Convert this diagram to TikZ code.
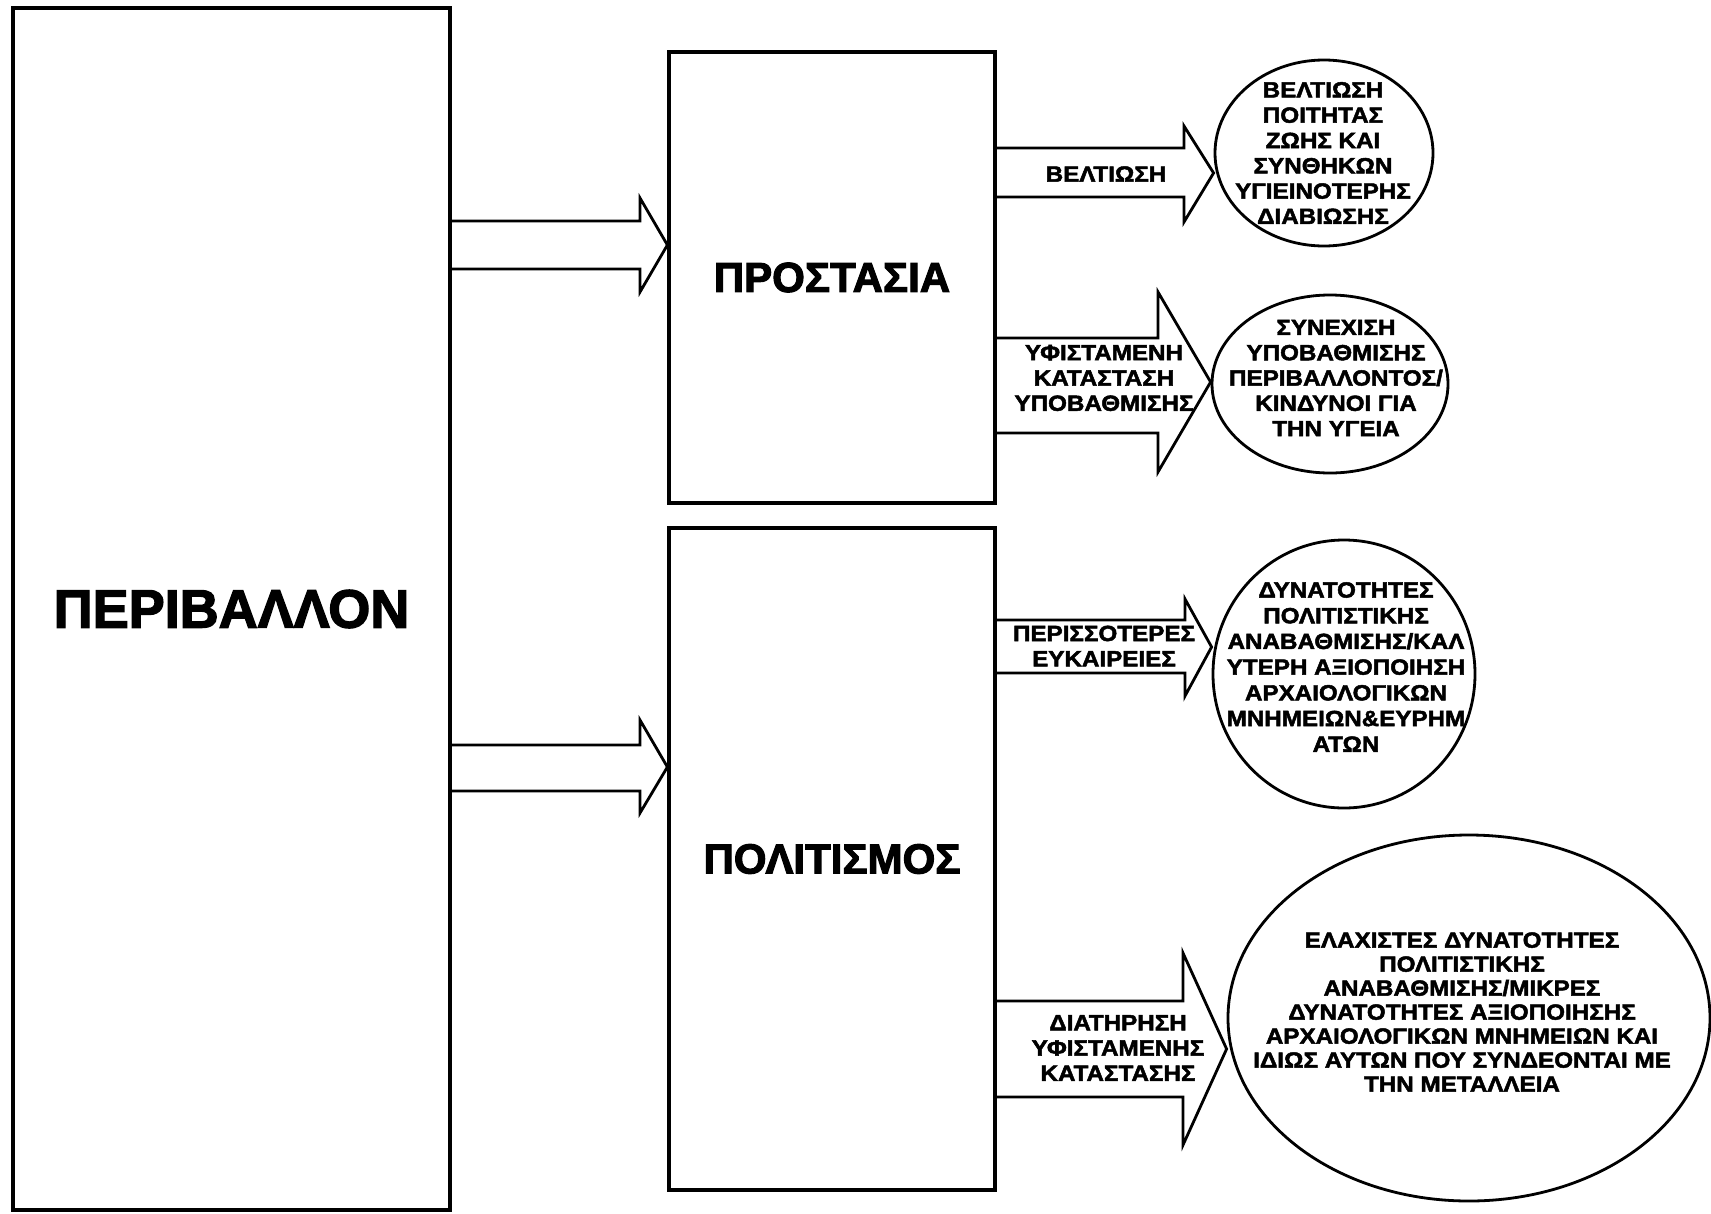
\documentclass[tikz,border=0pt]{standalone}
\usepackage{fontspec}
\setmainfont{Liberation Sans}
\newfontfamily\lblfont{Liberation Sans Bold}[FakeStretch=1.1, FakeBold=2.2]
\newfontfamily\ttlfont{Liberation Sans Bold}[FakeBold=2.5]
\usetikzlibrary{shapes.geometric,calc}
\newcommand\blockarr[8]{%
  \draw[barrow] (#1.east |- 0,#3) -- (#7,#3) -- (#7,#5) -- (#2.west |- 0,#8)
    -- (#7,#6) -- (#7,#4) -- (#1.east |- 0,#4);}
\begin{document}
\begin{tikzpicture}[x=1pt,y=-1pt,
  box/.style={draw, line width=3.2pt, rectangle, inner sep=0pt},
  oval/.style={draw, line width=2.8pt, ellipse, inner sep=0pt},
  barrow/.style={draw, line width=2.8pt, line join=miter},
  lbl/.style={align=center, font=\lblfont\fontsize{22}{25.3}\selectfont, inner sep=0pt},
  title/.style={font=\ttlfont\fontsize{42}{48}\selectfont}]
\useasboundingbox[fill=white] (0,0) rectangle (1711,1213);
\node[box, line width=4pt, minimum width=437pt, minimum height=1202pt,
  font=\ttlfont\fontsize{54}{60}\selectfont] (env) at (231.5,609) {ΠΕΡΙΒΑΛΛΟΝ};
\node[box, minimum width=326pt, minimum height=451pt, title] (prot) at (832,277.5) {ΠΡΟΣΤΑΣΙΑ};
\node[box, minimum width=326pt, minimum height=662pt, title] (pol) at (832,859) {ΠΟΛΙΤΙΣΜΟΣ};
\node[oval, minimum width=218pt, minimum height=186pt] (e1) at (1324,153) {};
\node[oval, minimum width=236pt, minimum height=178pt] (e2) at (1330,384) {};
\node[oval, minimum width=262pt, minimum height=268pt] (e3) at (1344,674) {};
\node[oval, minimum width=482pt, minimum height=366pt] (e4) at (1469,1018) {};
\blockarr{env}{prot}{221}{269}{198}{292}{640}{245}
\blockarr{env}{pol}{745}{791}{720}{813}{640}{767}
\blockarr{prot}{e1}{148}{197}{126}{222}{1184}{173}
\blockarr{prot}{e2}{338}{433}{292}{472}{1158}{382}
\blockarr{pol}{e3}{620}{673}{599}{696}{1185}{647}
\blockarr{pol}{e4}{1001}{1097}{953}{1145}{1183}{1049}
\node[lbl] (l1) at (1106,174) {ΒΕΛΤΙΩΣΗ};
\node[lbl] (l2) at (1104,378) {ΥΦΙΣΤΑΜΕΝΗ\\ΚΑΤΑΣΤΑΣΗ\\ΥΠΟΒΑΘΜΙΣΗΣ};
\node[lbl] (l3) at (1104,646) {ΠΕΡΙΣΣΟΤΕΡΕΣ\\ΕΥΚΑΙΡΕΙΕΣ};
\node[lbl] (l4) at (1118,1048) {ΔΙΑΤΗΡΗΣΗ\\ΥΦΙΣΤΑΜΕΝΗΣ\\ΚΑΤΑΣΤΑΣΗΣ};
\node[lbl] (t1) at (1323,153) {ΒΕΛΤΙΩΣΗ\\ΠΟΙΤΗΤΑΣ\\ΖΩΗΣ ΚΑΙ\\ΣΥΝΘΗΚΩΝ\\ΥΓΙΕΙΝΟΤΕΡΗΣ\\ΔΙΑΒΙΩΣΗΣ};
\node[lbl] (t2) at (1336,378) {ΣΥΝΕΧΙΣΗ\\ΥΠΟΒΑΘΜΙΣΗΣ\\ΠΕΡΙΒΑΛΛΟΝΤΟΣ/\\ΚΙΝΔΥΝΟΙ ΓΙΑ\\ΤΗΝ ΥΓΕΙΑ};
\node[lbl, font=\lblfont\fontsize{22}{25.7}\selectfont] (t3) at (1346,667) {ΔΥΝΑΤΟΤΗΤΕΣ\\ΠΟΛΙΤΙΣΤΙΚΗΣ\\ΑΝΑΒΑΘΜΙΣΗΣ/ΚΑΛ\\ΥΤΕΡΗ ΑΞΙΟΠΟΙΗΣΗ\\ΑΡΧΑΙΟΛΟΓΙΚΩΝ\\ΜΝΗΜΕΙΩΝ\&ΕΥΡΗΜ\\ΑΤΩΝ};
\node[lbl, font=\lblfont\fontsize{22}{24}\selectfont] (t4) at (1462,1012) {ΕΛΑΧΙΣΤΕΣ ΔΥΝΑΤΟΤΗΤΕΣ\\ΠΟΛΙΤΙΣΤΙΚΗΣ\\ΑΝΑΒΑΘΜΙΣΗΣ/ΜΙΚΡΕΣ\\ΔΥΝΑΤΟΤΗΤΕΣ ΑΞΙΟΠΟΙΗΣΗΣ\\ΑΡΧΑΙΟΛΟΓΙΚΩΝ ΜΝΗΜΕΙΩΝ ΚΑΙ\\ΙΔΙΩΣ ΑΥΤΩΝ ΠΟΥ ΣΥΝΔΕΟΝΤΑΙ ΜΕ\\ΤΗΝ ΜΕΤΑΛΛΕΙΑ};
\end{tikzpicture}
\end{document}
